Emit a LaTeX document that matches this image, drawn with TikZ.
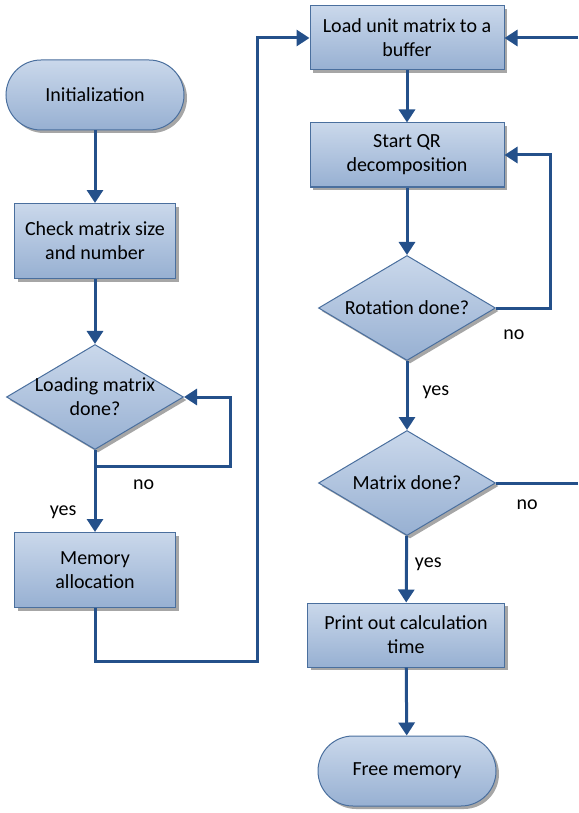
\documentclass[tikz,border=0pt]{standalone}
\usepackage{fontspec}
\setmainfont{Carlito}
\usetikzlibrary{shapes.geometric,shapes.misc,shadows,arrows.meta}
\definecolor{boxedge}{HTML}{4A6F9E}
\definecolor{flowblue}{HTML}{24508A}
\definecolor{boxtop}{HTML}{CAD8EB}
\definecolor{boxbot}{HTML}{97B0D2}
\begin{document}
\begin{tikzpicture}[x=1pt,y=1pt,
  font=\fontsize{20}{24}\selectfont,
  boxbase/.style={draw=boxedge,line width=1pt,top color=boxtop,bottom color=boxbot,
    drop shadow={shadow xshift=3pt,shadow yshift=-3pt,fill=black!35,opacity=1},
    align=center,inner sep=0pt},
  term/.style={boxbase,rounded rectangle,minimum width=178pt,minimum height=70pt},
  proc/.style={boxbase,rectangle,minimum width=161pt,minimum height=75pt},
  wideproc/.style={boxbase,rectangle,minimum width=194pt,minimum height=64pt},
  decide/.style={boxbase,diamond,aspect=1.7,inner xsep=-22pt,inner ysep=-6pt,
    minimum width=177pt,minimum height=105pt},
  flow/.style={draw=flowblue,line width=3pt,-{Triangle[length=13pt,width=16pt]}},
  flowline/.style={draw=flowblue,line width=3pt},
  tag/.style={inner sep=0pt}]
\useasboundingbox (0,0) rectangle (578,-813);
% left column
\node[term] (init) at (95,-95) {Initialization};
\node[proc] (check) at (95,-241) {Check matrix size\\and number};
\node[decide] (loaded) at (95,-397) {Loading matrix\\done?};
\node[proc] (mem) at (95,-570) {Memory\\allocation};
% right column
\node[wideproc] (buffer) at (407,-38) {Load unit matrix to a\\buffer};
\node[wideproc] (qr) at (407,-155) {Start QR\\decomposition};
\node[decide] (rot) at (407,-308) {Rotation done?};
\node[decide] (mat) at (407,-483) {Matrix done?};
\node[wideproc,minimum width=197pt] (print) at (406,-635) {Print out calculation\\time};
\node[term] (free) at (407,-771) {Free memory};
\coordinate (inR) at (578,-38);
\coordinate (outR) at (578,-483);
% connectors
\draw[flow] (init) -- (check);
\draw[flow] (check) -- (loaded);
\draw[flow] (loaded) -- node[tag,pos=0.76,left=17pt] {yes} (mem);
\draw[flow] (loaded.south) |- ++(135,-16) node[tag,pos=0.68,below=12pt] {no} |- (loaded.east);
\draw[flow] (mem.south) |- ++(162,-53) |- (buffer.west);
\draw[flow] (inR) -- (buffer.east);
\draw[flow] (buffer) -- (qr);
\draw[flow] (qr) -- (rot);
\draw[flow] (rot.east) -- ++(54,0) node[tag,pos=0.33,below=20pt] {no} |- (qr.east);
\draw[flow] (rot) -- node[tag,pos=0.46,right=14pt] {yes} (mat);
\draw[flowline] (mat.east) -- node[tag,pos=0.38,below=15pt] {no} (outR);
\draw[flow] (mat) -- node[tag,pos=0.42,right=7pt] {yes} (print);
\draw[flow] (print) -- (free);
\end{tikzpicture}
\end{document}
